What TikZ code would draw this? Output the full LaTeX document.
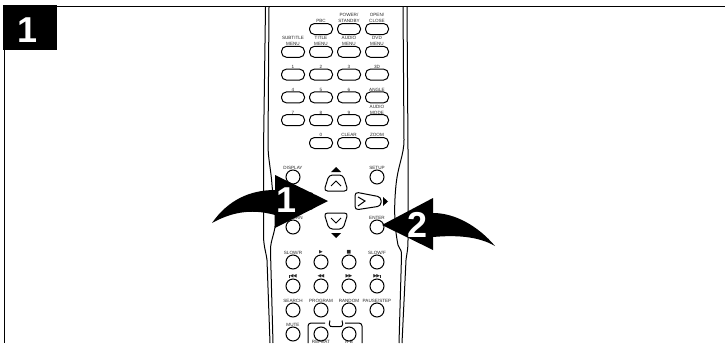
\documentclass[tikz,border=0pt]{standalone}
\usepackage{fontspec}
\setmainfont{Liberation Sans}
\newfontfamily\symfont{DejaVu Sans}
\usetikzlibrary{positioning}
\newcommand{\tri}[1]{{\symfont\fontsize{4.8}{4.8}\selectfont #1}}
\begin{document}
\begin{tikzpicture}[x=1pt,y=-1pt,node distance=11.8pt and 5pt,
 keyb/.style={draw,line width=1pt,fill=white,rounded corners=5pt,minimum width=23pt,minimum height=11pt,inner sep=0pt,outer sep=0pt},
 roundb/.style={draw,line width=1pt,fill=white,circle,minimum size=14pt,inner sep=0pt,outer sep=0pt},
 lbl/.style={font=\fontsize{4.6}{6}\selectfont,align=center,inner sep=0pt,text=black!85},
 every label/.style={lbl},label distance=.4pt,
 pad/.style={draw,line width=1pt,fill=white,rounded corners=3.5pt},
 chev/.style={draw,line width=1pt},
 body/.style={draw,line width=1pt},
 bigd/.style={font=\fontsize{36}{36}\selectfont\bfseries,text=white,inner sep=0pt}]
\useasboundingbox (0,0) rectangle (725,343);
% frame
\draw[line width=1.5pt] (4.5,50)--(4.5,343);
\draw[line width=1.5pt] (57,6.5)--(725,6.5);
\node[fill=black,minimum width=54pt,minimum height=45pt,inner sep=0pt,anchor=north west] (tab) at (3,5) {};
\node[bigd] (tabnum) at (28,30.5) {1};
% remote body
\draw[body] (265.5,7)--(263.5,150)--(263.5,237) .. controls (264,248) and (266,252) .. (267,260)--(270,343);
\draw[body] (269,7)--(268,145) .. controls (268,158) and (271,170) .. (272,185) .. controls (274,205) and (277,222) .. (274,232) .. controls (272,240) and (270,245) .. (270.5,252)--(273,343);
\draw[body] (407,7)--(408,150)--(408,240) .. controls (408,250) and (407,252) .. (406,260)--(402,343);
\draw[body] (403,7)--(404,140) .. controls (404,155) and (398,165) .. (396,185) .. controls (394,205) and (394,225) .. (398,245) .. controls (400,250) and (402,250) .. (401.5,256)--(399,343);
% key rows
\node[keyb,label={90:PBC}] (pbc) at (321,29) {};
\node[keyb,right=of pbc,label={90:POWER/\\STANDBY}] (power) {};
\node[keyb,right=of power,label={90:OPEN/\\CLOSE}] (open) {};
\node[keyb,below=of pbc,label={90:TITLE\\MENU}] (title) {};
\node[keyb,left=of title,label={90:SUBTITLE\\MENU}] (subtitle) {};
\node[keyb,right=of title,label={90:AUDIO\\MENU}] (audio) {};
\node[keyb,right=of audio,label={90:DVD\\MENU}] (dvd) {};
\node[keyb,below=of subtitle,label={90:1}] (one) {};
\node[keyb,right=of one,label={90:2}] (two) {};
\node[keyb,right=of two,label={90:3}] (three) {};
\node[keyb,right=of three,label={90:3D}] (threed) {};
\node[keyb,below=of one,label={90:4}] (four) {};
\node[keyb,right=of four,label={90:5}] (five) {};
\node[keyb,right=of five,label={90:6}] (six) {};
\node[keyb,right=of six,label={90:ANGLE}] (angle) {};
\node[keyb,below=of four,label={90:7}] (seven) {};
\node[keyb,right=of seven,label={90:8}] (eight) {};
\node[keyb,right=of eight,label={90:9}] (nine) {};
\node[keyb,right=of nine,label={90:AUDIO\\MODE}] (mode) {};
\node[keyb,below=of eight,label={90:0}] (zero) {};
\node[keyb,right=of zero,label={90:CLEAR}] (clear) {};
\node[keyb,right=of clear,label={90:ZOOM}] (zoom) {};
% round keys
\node[roundb,label={90:DISPLAY}] (display) at (293,177) {};
\node[roundb,label={90:SETUP}] (setup) at (377,177) {};
\node[roundb,label={90:RETURN}] (return) at (293,227) {};
\node[roundb,label={90:ENTER}] (enter) at (377,227) {};
\begin{scope}[node distance=10pt and 14pt]
\node[roundb,label={90:SLOW/R}] (slowr) at (293,262) {};
\node[roundb,right=of slowr,label={90:\tri{▶}}] (play) {};
\node[roundb,right=of play,label={90:\tri{■}}] (stop) {};
\node[roundb,right=of stop,label={90:SLOW/F}] (slowf) {};
\node[roundb,below=of slowr,label={90:\rule{.6pt}{3pt}\tri{◀\kern-.6pt◀}}] (prev) {};
\node[roundb,right=of prev,label={90:\tri{◀\kern-.6pt◀}}] (rew) {};
\node[roundb,right=of rew,label={90:\tri{▶\kern-.6pt▶}}] (fwd) {};
\node[roundb,right=of fwd,label={90:\tri{▶\kern-.6pt▶}\rule{.6pt}{3pt}}] (next) {};
\node[roundb,below=of prev,label={90:SEARCH}] (search) {};
\node[roundb,right=of search,label={90:PROGRAM}] (program) {};
\node[roundb,right=of program,label={90:RANDOM}] (random) {};
\node[roundb,right=of random,label={90:PAUSE/STEP}] (pause) {};
\node[roundb,below=of search,label={90:MUTE}] (mute) {};
\node[roundb,right=of mute,label={[label distance=-.5pt]-90:REPEAT}] (repeat) {};
\node[roundb,right=of repeat,label={[label distance=-.5pt]-90:A-B}] (ab) {};
\end{scope}
\draw[chev,rounded corners=3pt] (308,343)--(308,323)--(325,323);
\draw[chev,rounded corners=3pt] (345,323)--(362,323)--(362,343);
\draw[chev] (330,320.5) .. controls (328,328) and (331,326.5) .. (336,326.5) .. controls (341,326.5) and (344,328) .. (342,320.5);
% direction pads
\draw[pad] (329,175)--(343,175)--(348,191)--(324,191)--cycle;
\draw[chev] (331,186)--(336,181)--(341,186);
\draw[pad] (324,213)--(348,213)--(343,229)--(329,229)--cycle;
\draw[chev] (331,218)--(336,223)--(341,218);
\draw[pad] (355,192)--(381,197)--(381,206)--(355,210)--cycle;
\draw[chev] (358,197)--(365,201)--(358,206);
\draw[pad] (313,192)--(287,197)--(287,206)--(313,210)--cycle;
\fill (331,172)--(341,172)--(336,167)--cycle;
\fill (331,233)--(341,233)--(336,238)--cycle;
\fill (383,197)--(383,206)--(388,201.5)--cycle;
% big arrows
\fill (212,223) .. controls (228,200) and (250,190) .. (275,190)--(275,175)--(328,201)--(275,228)--(275,215) .. controls (250,208) and (230,213) .. (212,223)--cycle;
\fill (495,246) .. controls (478,226) and (455,213) .. (433,213)--(433,198)--(382,225)--(433,250)--(433,237) .. controls (455,235) and (478,236) .. (495,246)--cycle;
\node[bigd] (numone) at (287,200) {1};
\node[bigd] (numtwo) at (418,225) {2};
\end{tikzpicture}
\end{document}
